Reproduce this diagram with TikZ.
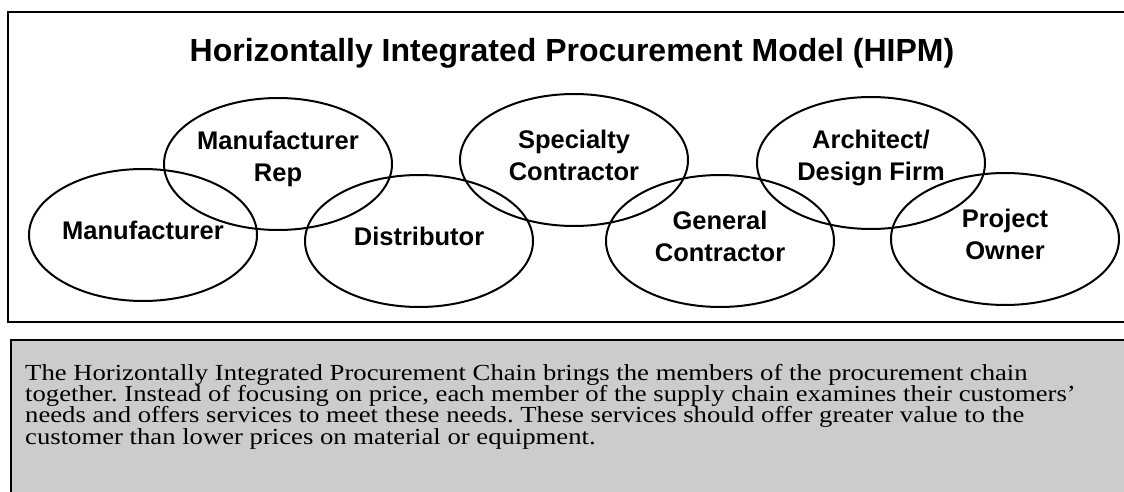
\documentclass[tikz,border=0pt]{standalone}
\usepackage{fontspec}
\setmainfont{Liberation Serif}
\newfontfamily\hipmsans{Liberation Sans}
\newfontfamily\hipmserif[FakeStretch=1.16]{Liberation Serif}
\usepackage{xcolor}
\usetikzlibrary{positioning}
\usetikzlibrary{shapes}
\definecolor{notegray}{HTML}{CCCCCC}
\newcommand{\notelines}{\lineskiplimit=-30pt\relax\frenchspacing}
\tikzset{
	member/.style={ellipse, draw, line width=2pt, minimum width=228pt, minimum height=132pt, inner sep=0pt},
	membername/.style={inner sep=0pt, align=center, yshift=5pt,
		font=\hipmsans\bfseries\fontsize{25.5}{32}\selectfont},
	modelbox/.style={draw, line width=2.5pt},
	notebox/.style={draw, line width=2.5pt, fill=notegray},
	heading/.style={inner sep=0pt, font=\hipmsans\bfseries\fontsize{32}{36}\selectfont},
	notetext/.style={inner sep=0pt, align=left,
		font=\hipmserif\fontsize{23}{21.1}\selectfont\notelines},
}

\begin{document}
\begin{tikzpicture}[x=1pt,y=-1pt]
	\useasboundingbox (0,0) rectangle (1124,492);
	\clip (0,0) rectangle (1124,492);
	\draw[modelbox] (8,12) rectangle (1140,322);
	\draw[notebox] (11,340) rectangle (1140,505);
	\node[heading, anchor=base] (hipm) at (572,62) {Horizontally Integrated Procurement Model (HIPM)};
	\node[member, label={[membername]center:Manufacturer}] (maker) at (143,235) {};
	\node[member, on grid, label={[membername]center:{Manufacturer\\Rep}}] (rep)
		[above right=71pt and 135pt of maker] {};
	\node[member, on grid, label={[membername]center:Distributor}] (distributor)
		[below right=77pt and 141pt of rep] {};
	\node[member, on grid, label={[membername]center:{Specialty\\Contractor}}] (specialty)
		[above right=81pt and 155pt of distributor] {};
	\node[member, on grid, label={[membername]center:{General\\Contractor}}] (general)
		[below right=81pt and 146pt of specialty] {};
	\node[member, on grid, label={[membername]center:{Architect/\\Design Firm}}] (architect)
		[above right=78pt and 151pt of general] {};
	\node[member, on grid, label={[membername]center:{Project\\Owner}}] (owner)
		[below right=76pt and 134pt of architect] {};
%	summary of the chain
	\node[notetext, anchor=base west] (summary) at (25,444) {The Horizontally Integrated Procurement Chain brings the members of the procurement chain\\
	together. Instead of focusing on price, each member of the supply chain examines their customers’\\
	needs and offers services to meet these needs. These services should offer greater value to the\\
	customer than lower prices on material or equipment.};
\end{tikzpicture}
\end{document}
